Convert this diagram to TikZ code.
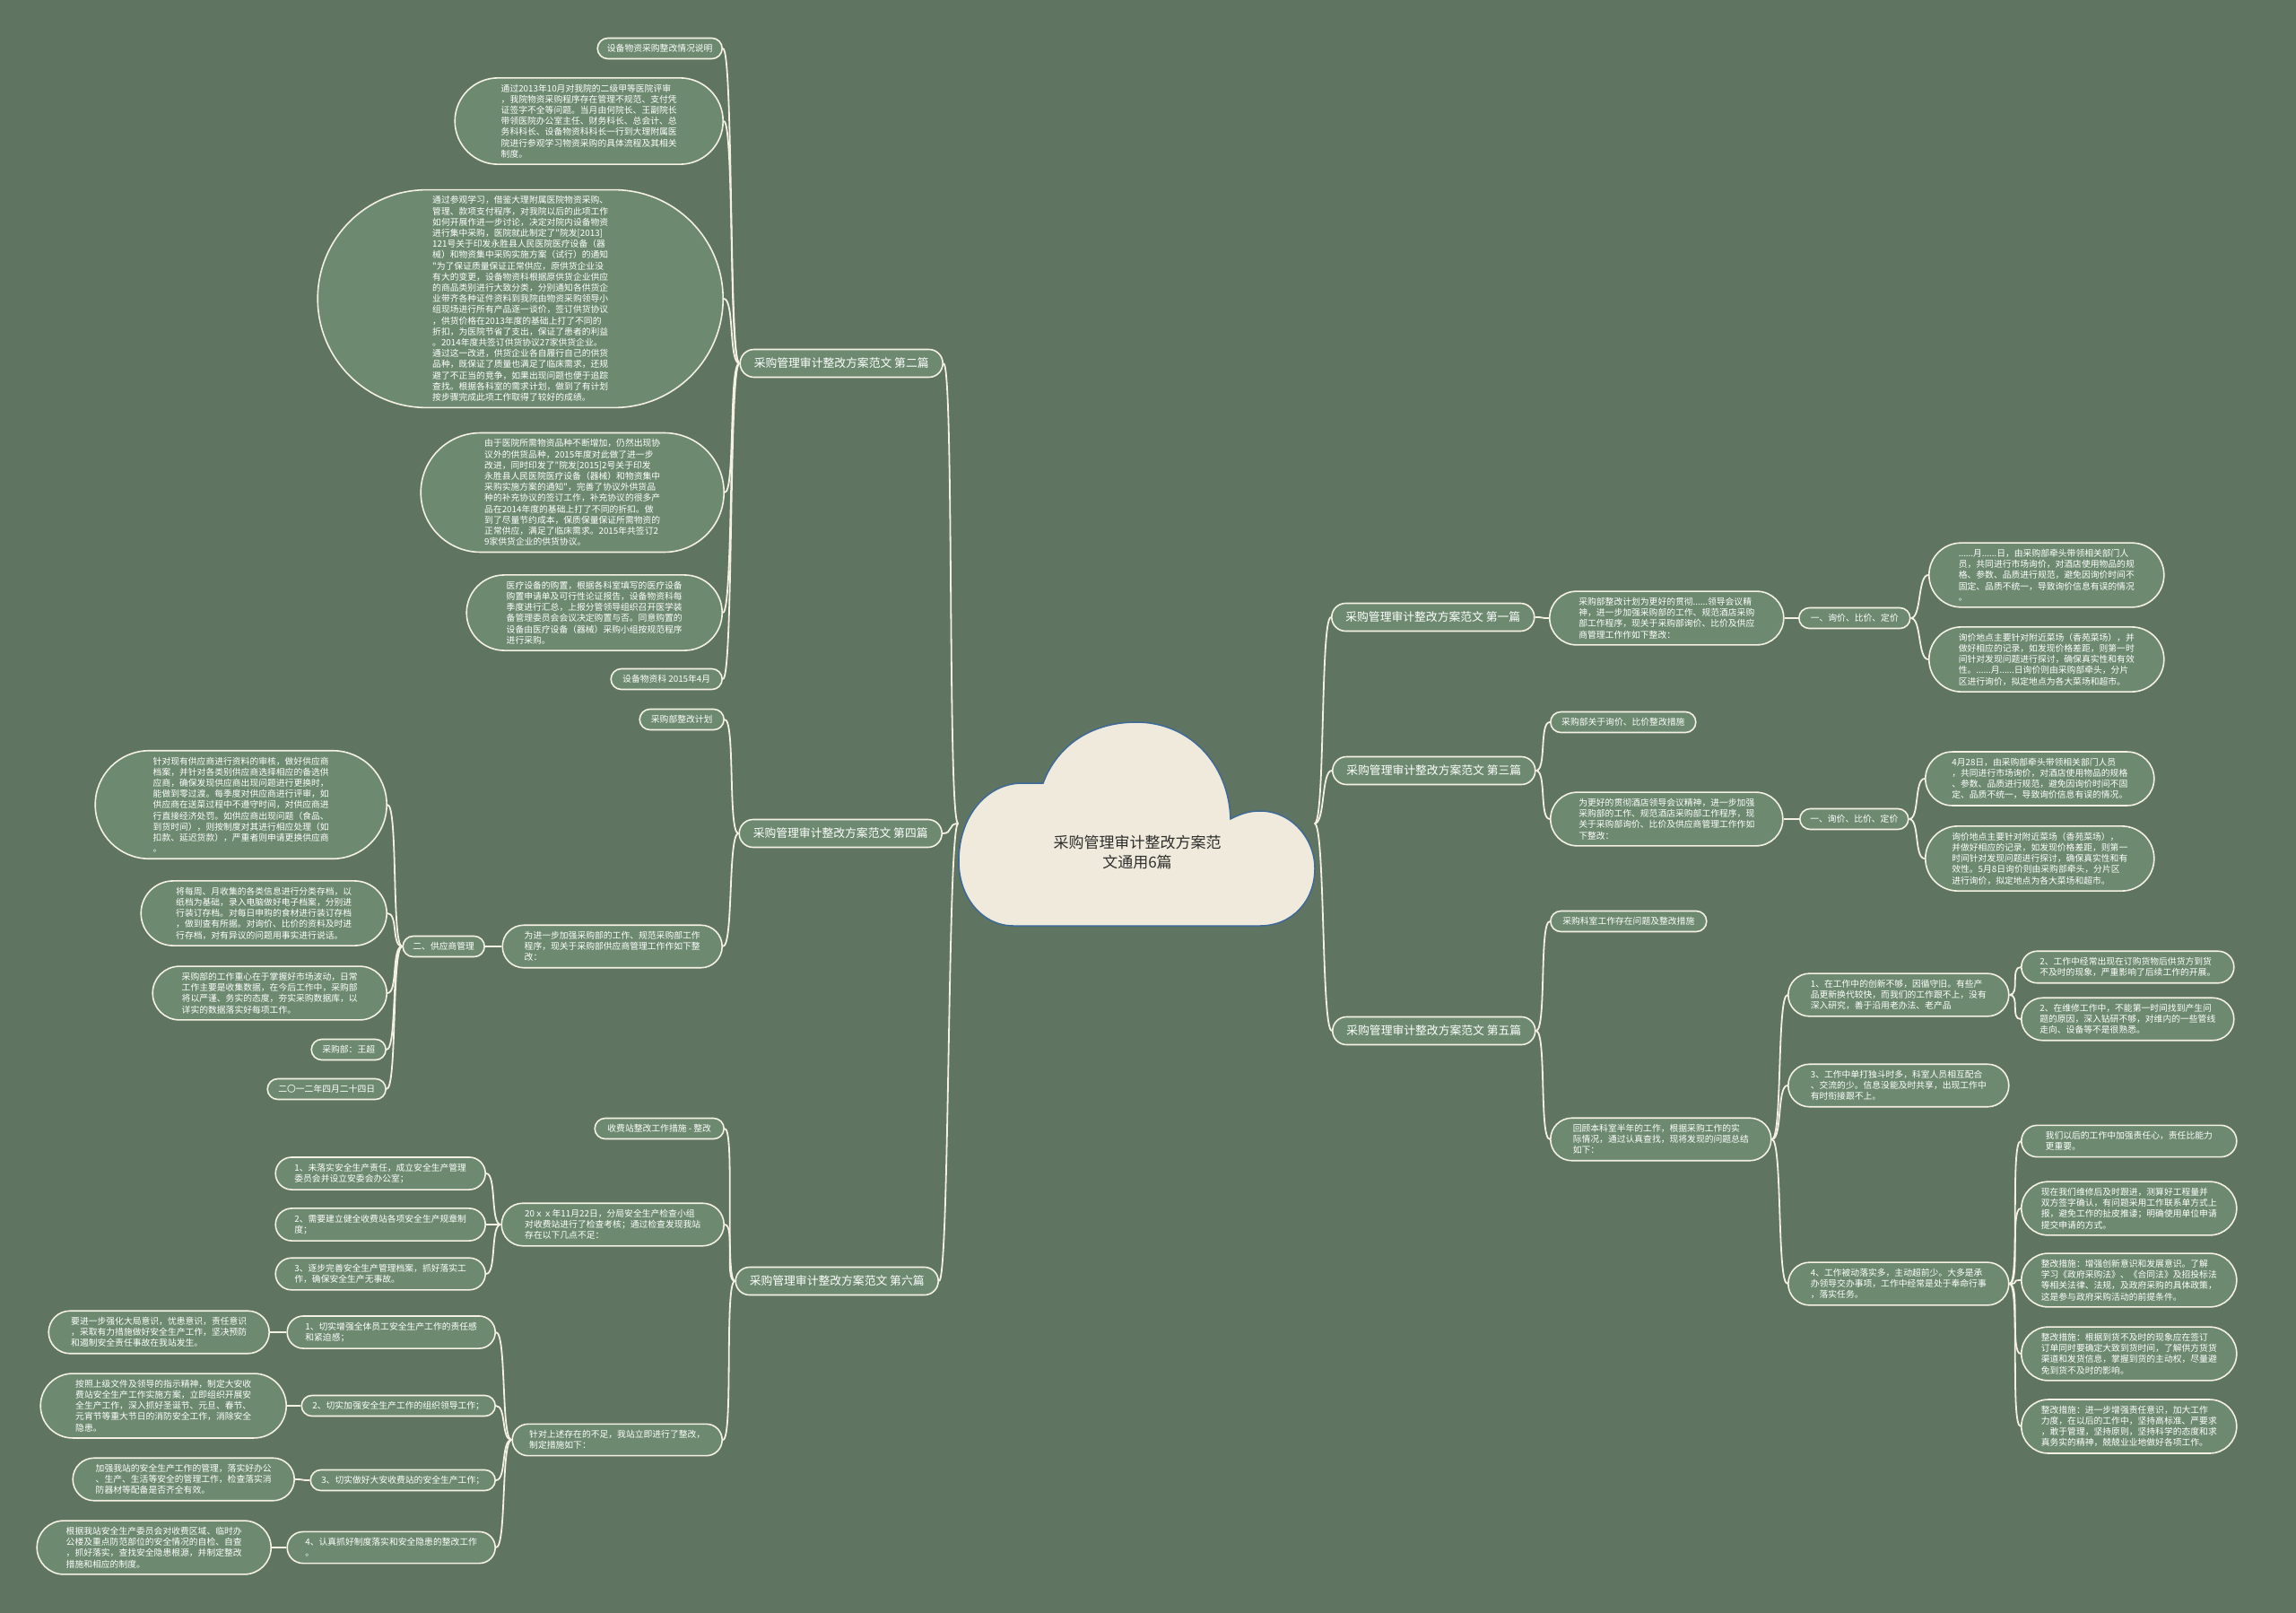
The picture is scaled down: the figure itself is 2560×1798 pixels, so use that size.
\documentclass[tikz,border=0pt]{standalone}
\usepackage{fontspec}
\usepackage{tikz}
\usetikzlibrary{shapes.misc}
\newfontfamily\cjk{Noto Sans CJK SC}
\definecolor{verdeF}{HTML}{607462}
\definecolor{verdeN}{HTML}{6D8A70}
\definecolor{cremaL}{HTML}{F4F0E2}
\definecolor{nubeF}{HTML}{EFEADB}
\definecolor{azulN}{HTML}{3D6A98}
\definecolor{grisT}{HTML}{2E2E2E}

\begin{document}
\begin{tikzpicture}[x=1pt,y=-1pt,
    caja/.style={rounded rectangle,draw=cremaL,line width=1.6pt,fill=verdeN,text=white,
      inner xsep=0pt,inner ysep=7pt,align=left,minimum width=#1,font=\cjk\fontsize{9.8}{12.2}\selectfont},
    caja/.default=10pt,
    hoja/.style={caja=#1,minimum height=23pt,inner ysep=3pt},
    hoja/.default=10pt,
    rama/.style={caja=226pt,minimum height=31pt,inner ysep=3pt,font=\cjk\fontsize{12.8}{15}\selectfont},
    linea/.style={draw=cremaL,line width=1.8pt},
    izq/.style={to path={.. controls +(-12,0) and +(12,0) .. (\tikztotarget)}},
    der/.style={to path={.. controls +(12,0) and +(-12,0) .. (\tikztotarget)}}]
  \fill[verdeF] (0,0) rectangle (2560,1798);
  % nube central
  \draw[fill=nubeF,draw=azulN,line width=1.5pt] (1163,873)
    .. controls (1180,828) and (1220,805) .. (1267,805)
    .. controls (1325,805) and (1370,850) .. (1372,913)
    .. controls (1385,906) and (1395,904) .. (1405,904)
    .. controls (1440,904) and (1466,935) .. (1466,968)
    .. controls (1466,1005) and (1440,1032) .. (1405,1032)
    -- (1130,1032)
    .. controls (1095,1032) and (1069,1000) .. (1069,960)
    .. controls (1069,910) and (1100,873) .. (1140,873)
    -- cycle;
  \node[minimum width=397pt,minimum height=227pt,inner sep=0pt] (raiz) at (1267,918) {};
  \node[align=center,text=grisT,font=\cjk\fontsize{17}{22}\selectfont] (raizT) at (1268,950) {采购管理审计整改方案范\\文通用6篇};

  % lado izquierdo
  \node[rama,anchor=east] (r2) at (1052,405) {采购管理审计整改方案范文 第二篇};
  \node[hoja=139pt,anchor=east] (h21) at (806,54) {设备物资采购整改情况说明};
  \node[caja=299pt,anchor=east] (h22) at (807,135) {通过2013年10月对我院的二级甲等医院评审\\，我院物资采购程序存在管理不规范、支付凭\\证签字不全等问题。当月由何院长、王副院长\\带领医院办公室主任、财务科长、总会计、总\\务科科长、设备物资科科长一行到大理附属医\\院进行参观学习物资采购的具体流程及其相关\\制度。};
  \node[caja=452pt,anchor=east] (h23) at (807,333) {通过参观学习，借鉴大理附属医院物资采购、\\管理、款项支付程序，对我院以后的此项工作\\如何开展作进一步讨论，决定对院内设备物资\\进行集中采购，医院就此制定了"院发[2013]\\121号关于印发永胜县人民医院医疗设备（器\\械）和物资集中采购实施方案（试行）的通知\\"为了保证质量保证正常供应，原供货企业没\\有大的变更，设备物资科根据原供货企业供应\\的商品类别进行大致分类，分别通知各供货企\\业带齐各种证件资料到我院由物资采购领导小\\组现场进行所有产品逐一谈价，签订供货协议\\，供货价格在2013年度的基础上打了不同的\\折扣，为医院节省了支出，保证了患者的利益\\。2014年度共签订供货协议27家供货企业。\\通过这一改进，供货企业各自履行自己的供货\\品种，既保证了质量也满足了临床需求，还规\\避了不正当的竞争，如果出现问题也便于追踪\\查找。根据各科室的需求计划，做到了有计划\\按步骤完成此项工作取得了较好的成绩。};
  \node[caja=338pt,anchor=east] (h24) at (808,549) {由于医院所需物资品种不断增加，仍然出现协\\议外的供货品种，2015年度对此做了进一步\\改进，同时印发了"院发[2015]2号关于印发\\永胜县人民医院医疗设备（器械）和物资集中\\采购实施方案的通知"，完善了协议外供货品\\种的补充协议的签订工作，补充协议的很多产\\品在2014年度的基础上打了不同的折扣。做\\到了尽量节约成本，保质保量保证所需物资的\\正常供应，满足了临床需求。2015年共签订2\\9家供货企业的供货协议。};
  \node[caja=285pt,anchor=east] (h25) at (806,683) {医疗设备的购置，根据各科室填写的医疗设备\\购置申请单及可行性论证报告，设备物资科每\\季度进行汇总，上报分管领导组织召开医学装\\备管理委员会会议决定购置与否。同意购置的\\设备由医疗设备（器械）采购小组按规范程序\\进行采购。};
  \node[hoja=124pt,anchor=east] (h26) at (806,757) {设备物资科 2015年4月};

  \node[rama,anchor=east] (r4) at (1051,929) {采购管理审计整改方案范文 第四篇};
  \node[hoja=94pt,anchor=east] (h41) at (808,802) {采购部整改计划};
  \node[caja=245pt,anchor=east] (h42) at (806,1055) {为进一步加强采购部的工作、规范采购部工作\\程序，现关于采购部供应商管理工作作如下整\\改：};
  \node[hoja=91pt,anchor=east] (h421) at (541,1055) {二、供应商管理};
  \node[caja=325pt,anchor=east] (p1) at (432,897) {针对现有供应商进行资料的审核，做好供应商\\档案，并针对各类别供应商选择相应的备选供\\应商，确保发现供应商出现问题进行更换时，\\能做到零过渡。每季度对供应商进行评审，如\\供应商在送菜过程中不遵守时间，对供应商进\\行直接经济处罚。如供应商出现问题（食品、\\到货时间），则按制度对其进行相应处理（如\\扣款、延迟货款），严重者则申请更换供应商\\。};
  \node[caja=274pt,anchor=east] (p2) at (432,1018) {将每周、月收集的各类信息进行分类存档，以\\纸档为基础，录入电脑做好电子档案，分别进\\行装订存档。对每日申购的食材进行装订存档\\，做到查有所据。对询价、比价的资料及时进\\行存档，对有异议的问题用事实进行说话。};
  \node[caja=261pt,anchor=east] (p3) at (432,1107) {采购部的工作重心在于掌握好市场波动，日常\\工作主要是收集数据，在今后工作中，采购部\\将以严谨、务实的态度，夯实采购数据库，以\\详实的数据落实好每项工作。};
  \node[hoja=83pt,anchor=east] (p4) at (431,1170) {采购部：王超};
  \node[hoja=132pt,anchor=east] (p5) at (431,1214) {二〇一二年四月二十四日};

  \node[rama,anchor=east] (r6) at (1047,1428) {采购管理审计整改方案范文 第六篇};
  \node[hoja=144pt,anchor=east] (h61) at (808,1258) {收费站整改工作措施 - 整改};
  \node[caja=248pt,anchor=east] (h62) at (808,1365) {20ｘｘ年11月22日，分局安全生产检查小组\\对收费站进行了检查考核；通过检查发现我站\\存在以下几点不足：};
  \node[caja=234pt,anchor=east] (s1) at (542,1308) {1、未落实安全生产责任，成立安全生产管理\\委员会并设立安委会办公室；};
  \node[caja=234pt,anchor=east] (s2) at (542,1365) {2、需要建立健全收费站各项安全生产规章制\\度；};
  \node[caja=234pt,anchor=east] (s3) at (542,1420) {3、逐步完善安全生产管理档案，抓好落实工\\作，确保安全生产无事故。};
  \node[caja=234pt,anchor=east] (h63) at (806,1605) {针对上述存在的不足，我站立即进行了整改，\\制定措施如下：};
  \node[caja=232pt,anchor=east] (m1) at (553,1485) {1、切实增强全体员工安全生产工作的责任感\\和紧迫感；};
  \node[caja=246pt,anchor=east] (m1a) at (301,1485) {要进一步强化大局意识，忧患意识，责任意识\\，采取有力措施做好安全生产工作，坚决预防\\和遏制安全责任事故在我站发生。};
  \node[hoja=216pt,anchor=east] (m2) at (553,1567) {2、切实加强安全生产工作的组织领导工作；};
  \node[caja=274pt,anchor=east] (m2a) at (320,1567) {按照上级文件及领导的指示精神，制定大安收\\费站安全生产工作实施方案，立即组织开展安\\全生产工作，深入抓好圣诞节、元旦、春节、\\元宵节等重大节日的消防安全工作，消除安全\\隐患。};
  \node[hoja=206pt,anchor=east] (m3) at (553,1650) {3、切实做好大安收费站的安全生产工作；};
  \node[caja=247pt,anchor=east] (m3a) at (329,1649) {加强我站的安全生产工作的管理，落实好办公\\、生产、生活等安全的管理工作，检查落实消\\防器材等配备是否齐全有效。};
  \node[caja=232pt,anchor=east] (m4) at (553,1725) {4、认真抓好制度落实和安全隐患的整改工作\\。};
  \node[caja=261pt,anchor=east] (m4a) at (303,1725) {根据我站安全生产委员会对收费区域、临时办\\公楼及重点防范部位的安全情况的自检、自查\\，抓好落实，查找安全隐患根源，并制定整改\\措施和相应的制度。};

  % lado derecho
  \node[rama,anchor=west] (r1) at (1484,688) {采购管理审计整改方案范文 第一篇};
  \node[caja=261pt,anchor=west] (h11) at (1727,689) {采购部整改计划为更好的贯彻......领导会议精\\神，进一步加强采购部的工作、规范酒店采购\\部工作程序，现关于采购部询价、比价及供应\\商管理工作作如下整改：};
  \node[hoja=124pt,anchor=west] (h111) at (2005,689) {一、询价、比价、定价};
  \node[caja=262pt,anchor=west] (q1) at (2150,641) {......月......日，由采购部牵头带领相关部门人\\员，共同进行市场询价，对酒店使用物品的规\\格、参数、品质进行规范，避免因询价时间不\\固定、品质不统一，导致询价信息有误的情况\\。};
  \node[caja=262pt,anchor=west] (q2) at (2150,735) {询价地点主要针对附近菜场（香苑菜场），并\\做好相应的记录，如发现价格差距，则第一时\\间针对发现问题进行探讨，确保真实性和有效\\性。......月......日询价则由采购部牵头，分片\\区进行询价，拟定地点为各大菜场和超市。};

  \node[rama,anchor=west] (r3) at (1485,859) {采购管理审计整改方案范文 第三篇};
  \node[hoja=162pt,anchor=west] (h31) at (1728,805) {采购部关于询价、比价整改措施};
  \node[caja=259pt,anchor=west] (h32) at (1728,913) {为更好的贯彻酒店领导会议精神，进一步加强\\采购部的工作、规范酒店采购部工作程序，现\\关于采购部询价、比价及供应商管理工作作如\\下整改：};
  \node[hoja=121pt,anchor=west] (h321) at (2006,913) {一、询价、比价、定价};
  \node[caja=255pt,anchor=west] (t1) at (2146,868) {4月28日，由采购部牵头带领相关部门人员\\，共同进行市场询价，对酒店使用物品的规格\\、参数、品质进行规范，避免因询价时间不固\\定、品质不统一，导致询价信息有误的情况。};
  \node[caja=255pt,anchor=west] (t2) at (2146,957) {询价地点主要针对附近菜场（香苑菜场），\\并做好相应的记录，如发现价格差距，则第一\\时间针对发现问题进行探讨，确保真实性和有\\效性。5月8日询价则由采购部牵头，分片区\\进行询价，拟定地点为各大菜场和超市。};

  \node[rama,anchor=west] (r5) at (1485,1149) {采购管理审计整改方案范文 第五篇};
  \node[hoja=174pt,anchor=west] (h51) at (1728,1027) {采购科室工作存在问题及整改措施};
  \node[caja=246pt,anchor=west] (h52) at (1728,1270) {回顾本科室半年的工作，根据采购工作的实\\际情况，通过认真查找，现将发现的问题总结\\如下：};
  \node[caja=246pt,anchor=west] (h521) at (1993,1109) {1、在工作中的创新不够，因循守旧。有些产\\品更新换代较快，而我们的工作跟不上，没有\\深入研究，善于沿用老办法、老产品};
  \node[caja=237pt,anchor=west] (u1) at (2253,1078) {2、工作中经常出现在订购货物后供货方到货\\不及时的现象，严重影响了后续工作的开展。};
  \node[caja=237pt,anchor=west] (u2) at (2253,1136) {2、在维修工作中，不能第一时间找到产生问\\题的原因，深入钻研不够，对维内的一些管线\\走向、设备等不是很熟悉。};
  \node[caja=246pt,anchor=west] (h522) at (1993,1210) {3、工作中单打独斗时多，科室人员相互配合\\、交流的少。信息没能及时共享，出现工作中\\有时衔接跟不上。};
  \node[caja=246pt,anchor=west] (h523) at (1993,1431) {4、工作被动落实多，主动超前少。大多是承\\办领导交办事项，工作中经常是处于奉命行事\\，落实任务。};
  \node[caja=240pt,anchor=west] (v1) at (2253,1272) {我们以后的工作中加强责任心，责任比能力\\更重要。};
  \node[caja=240pt,anchor=west] (v2) at (2253,1347) {现在我们维修后及时跟进，测算好工程量并\\双方签字确认，有问题采用工作联系单方式上\\报，避免工作的扯皮推诿；明确使用单位申请\\提交申请的方式。};
  \node[caja=240pt,anchor=west] (v3) at (2253,1427) {整改措施：增强创新意识和发展意识。了解\\学习《政府采购法》、《合同法》及招投标法\\等相关法律、法规，及政府采购的具体政策，\\这是参与政府采购活动的前提条件。};
  \node[caja=240pt,anchor=west] (v4) at (2253,1509) {整改措施：根据到货不及时的现象应在签订\\订单同时要确定大致到货时间，了解供方货货\\渠道和发货信息，掌握到货的主动权，尽量避\\免到货不及时的影响。};
  \node[caja=240pt,anchor=west] (v5) at (2253,1590) {整改措施：进一步增强责任意识，加大工作\\力度，在以后的工作中，坚持高标准、严要求\\，敢于管理，坚持原则，坚持科学的态度和求\\真务实的精神，兢兢业业地做好各项工作。};

  % conectores
  \draw[linea] (raiz.west) to[izq] (r2.east);
  \draw[linea] (raiz.west) to[izq] (r4.east);
  \draw[linea] (raiz.west) to[izq] (r6.east);
  \draw[linea] (raiz.east) to[der] (r1.west);
  \draw[linea] (raiz.east) to[der] (r3.west);
  \draw[linea] (raiz.east) to[der] (r5.west);

  \draw[linea] (r2.west) to[izq] (h21.east);
  \draw[linea] (r2.west) to[izq] (h22.east);
  \draw[linea] (r2.west) to[izq] (h23.east);
  \draw[linea] (r2.west) to[izq] (h24.east);
  \draw[linea] (r2.west) to[izq] (h25.east);
  \draw[linea] (r2.west) to[izq] (h26.east);

  \draw[linea] (r4.west) to[izq] (h41.east);
  \draw[linea] (r4.west) to[izq] (h42.east);
  \draw[linea] (h42.west) to[izq] (h421.east);
  \draw[linea] (h421.west) to[izq] (p1.east);
  \draw[linea] (h421.west) to[izq] (p2.east);
  \draw[linea] (h421.west) to[izq] (p3.east);
  \draw[linea] (h421.west) to[izq] (p4.east);
  \draw[linea] (h421.west) to[izq] (p5.east);

  \draw[linea] (r6.west) to[izq] (h61.east);
  \draw[linea] (r6.west) to[izq] (h62.east);
  \draw[linea] (r6.west) to[izq] (h63.east);
  \draw[linea] (h62.west) to[izq] (s1.east);
  \draw[linea] (h62.west) to[izq] (s2.east);
  \draw[linea] (h62.west) to[izq] (s3.east);
  \draw[linea] (h63.west) to[izq] (m1.east);
  \draw[linea] (h63.west) to[izq] (m2.east);
  \draw[linea] (h63.west) to[izq] (m3.east);
  \draw[linea] (h63.west) to[izq] (m4.east);
  \draw[linea] (m1.west) to[izq] (m1a.east);
  \draw[linea] (m2.west) to[izq] (m2a.east);
  \draw[linea] (m3.west) to[izq] (m3a.east);
  \draw[linea] (m4.west) to[izq] (m4a.east);

  \draw[linea] (r1.east) to[der] (h11.west);
  \draw[linea] (h11.east) to[der] (h111.west);
  \draw[linea] (h111.east) to[der] (q1.west);
  \draw[linea] (h111.east) to[der] (q2.west);

  \draw[linea] (r3.east) to[der] (h31.west);
  \draw[linea] (r3.east) to[der] (h32.west);
  \draw[linea] (h32.east) to[der] (h321.west);
  \draw[linea] (h321.east) to[der] (t1.west);
  \draw[linea] (h321.east) to[der] (t2.west);

  \draw[linea] (r5.east) to[der] (h51.west);
  \draw[linea] (r5.east) to[der] (h52.west);
  \draw[linea] (h52.east) to[der] (h521.west);
  \draw[linea] (h52.east) to[der] (h522.west);
  \draw[linea] (h52.east) to[der] (h523.west);
  \draw[linea] (h521.east) to[der] (u1.west);
  \draw[linea] (h521.east) to[der] (u2.west);
  \draw[linea] (h523.east) to[der] (v1.west);
  \draw[linea] (h523.east) to[der] (v2.west);
  \draw[linea] (h523.east) to[der] (v3.west);
  \draw[linea] (h523.east) to[der] (v4.west);
  \draw[linea] (h523.east) to[der] (v5.west);
\end{tikzpicture}
\end{document}
